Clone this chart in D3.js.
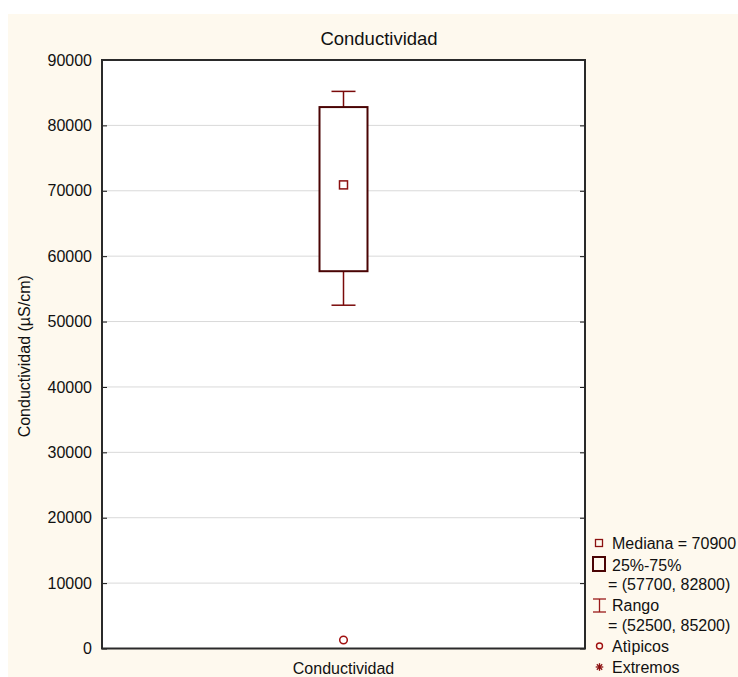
<!DOCTYPE html>
<html>
<head>
<meta charset="utf-8">
<script src="https://cdn.jsdelivr.net/npm/d3@7"></script>
<style>
  html, body { margin: 0; padding: 0; background: #ffffff; }
  svg { display: block; }
  text { font-family: "Liberation Sans", Arial, sans-serif; fill: #111; }
</style>
</head>
<body>
<svg id="chart" width="738" height="677"></svg>
<script>
// Box plot data
const categories = ["Conductividad"];
const medians = [70900];
const q1s = [57700];
const q3s = [82800];
const mins = [52500];
const maxs = [85200];
const outliers = [[1300]];
const yTicks = [0, 10000, 20000, 30000, 40000, 50000, 60000, 70000, 80000, 90000];

const title = "Conductividad";
const yLabel = "Conductividad (\u00b5S/cm)";

const svg = d3.select("#chart");
const W = 738, H = 677;
const m = { left: 102, right: 153, top: 60, bottom: 28.5 };
const pw = W - m.left - m.right;
const ph = H - m.top - m.bottom;

// cream panel
svg.append("rect").attr("x", 8).attr("y", 14).attr("width", W - 8).attr("height", H - 14)
  .attr("fill", "#fef9ee");

const y = d3.scaleLinear().domain([0, 90000]).range([m.top + ph, m.top]);
const x = d3.scaleBand().domain(categories).range([m.left, m.left + pw]);

const g = svg.append("g");

// plot background
g.append("rect").attr("x", m.left).attr("y", m.top).attr("width", pw).attr("height", ph)
  .attr("fill", "#ffffff");

// gridlines
g.append("g").selectAll("line").data(yTicks.filter(t => t > 0 && t < 90000)).join("line")
  .attr("x1", m.left).attr("x2", m.left + pw)
  .attr("y1", d => y(d)).attr("y2", d => y(d))
  .attr("stroke", "#d9d9d9").attr("stroke-width", 1);

// left axis (inward ticks)
const yAxisL = d3.axisLeft(y).tickValues(yTicks).tickSize(-5).tickPadding(10).tickFormat(d3.format("d"));
const ga = g.append("g").attr("transform", `translate(${m.left},0)`).call(yAxisL);
ga.select(".domain").remove();
ga.selectAll(".tick line").attr("stroke", "#111");
ga.selectAll(".tick text").attr("font-size", 16).attr("font-family", "Liberation Sans, Arial, sans-serif").attr("fill", "#111");

// right axis ticks
const yAxisR = d3.axisRight(y).tickValues(yTicks).tickSize(-5).tickFormat("");
const gr = g.append("g").attr("transform", `translate(${m.left + pw},0)`).call(yAxisR);
gr.select(".domain").remove();
gr.selectAll(".tick line").attr("stroke", "#111");

// frame
g.append("rect").attr("x", m.left).attr("y", m.top).attr("width", pw).attr("height", ph)
  .attr("fill", "none").attr("stroke", "#2a2a2a").attr("stroke-width", 2);

// box plot marks
const cx = d => x(d) + x.bandwidth() / 2;
const boxW = 48, capW = 24;
const boxes = g.append("g").selectAll("g").data(categories).join("g");

boxes.append("line")
  .attr("x1", d => cx(d)).attr("x2", d => cx(d))
  .attr("y1", (d, i) => y(q3s[i])).attr("y2", (d, i) => y(maxs[i]))
  .attr("stroke", "#7a0a0a").attr("stroke-width", 1.5);
boxes.append("line")
  .attr("x1", d => cx(d)).attr("x2", d => cx(d))
  .attr("y1", (d, i) => y(q1s[i])).attr("y2", (d, i) => y(mins[i]))
  .attr("stroke", "#7a0a0a").attr("stroke-width", 1.5);
boxes.append("line")
  .attr("x1", d => cx(d) - capW / 2).attr("x2", d => cx(d) + capW / 2)
  .attr("y1", (d, i) => y(maxs[i])).attr("y2", (d, i) => y(maxs[i]))
  .attr("stroke", "#7a0a0a").attr("stroke-width", 1.5);
boxes.append("line")
  .attr("x1", d => cx(d) - capW / 2).attr("x2", d => cx(d) + capW / 2)
  .attr("y1", (d, i) => y(mins[i])).attr("y2", (d, i) => y(mins[i]))
  .attr("stroke", "#7a0a0a").attr("stroke-width", 1.5);
boxes.append("rect")
  .attr("x", d => cx(d) - boxW / 2).attr("width", boxW)
  .attr("y", (d, i) => y(q3s[i])).attr("height", (d, i) => y(q1s[i]) - y(q3s[i]))
  .attr("fill", "#ffffff").attr("stroke", "#4a0404").attr("stroke-width", 2);
boxes.append("rect")
  .attr("x", d => cx(d) - 4).attr("width", 8)
  .attr("y", (d, i) => y(medians[i]) - 4).attr("height", 8)
  .attr("fill", "none").attr("stroke", "#8b1010").attr("stroke-width", 1.5);
boxes.each(function(d, i) {
  d3.select(this).selectAll("circle").data(outliers[i]).join("circle")
    .attr("cx", cx(d)).attr("cy", v => y(v)).attr("r", 3.8)
    .attr("fill", "none").attr("stroke", "#a01010").attr("stroke-width", 1.5);
});

// title and axis labels
svg.append("text").attr("x", 379).attr("y", 45).attr("text-anchor", "middle")
  .attr("font-size", 18.5).text(title);
svg.append("text").attr("transform", `translate(30,${m.top + ph / 2 + 2}) rotate(-90)`)
  .attr("text-anchor", "middle").attr("font-size", 16).text(yLabel);
svg.append("g").selectAll("text").data(categories).join("text")
  .attr("x", d => cx(d)).attr("y", 674).attr("text-anchor", "middle")
  .attr("font-size", 16).text(d => d);

// legend
const lg = svg.append("g");
const fmt = d3.format("d");
lg.append("rect").attr("x", 595.5).attr("y", 539.5).attr("width", 7).attr("height", 7)
  .attr("fill", "none").attr("stroke", "#8b1010").attr("stroke-width", 1.3);
lg.append("text").attr("x", 612).attr("y", 549).attr("font-size", 16).text(`Mediana = ${fmt(medians[0])}`);

lg.append("rect").attr("x", 593).attr("y", 557).attr("width", 12).attr("height", 14)
  .attr("fill", "none").attr("stroke", "#4a0404").attr("stroke-width", 2);
lg.append("text").attr("x", 612).attr("y", 571).attr("font-size", 16).text("25%-75%");
lg.append("text").attr("x", 608).attr("y", 590).attr("font-size", 16)
  .text(`= (${fmt(q1s[0])}, ${fmt(q3s[0])})`);

lg.append("line").attr("x1", 599.5).attr("x2", 599.5).attr("y1", 599).attr("y2", 612)
  .attr("stroke", "#9a1a1a").attr("stroke-width", 1.3);
lg.append("line").attr("x1", 593).attr("x2", 606).attr("y1", 599).attr("y2", 599)
  .attr("stroke", "#9a1a1a").attr("stroke-width", 1.3);
lg.append("line").attr("x1", 593).attr("x2", 606).attr("y1", 612).attr("y2", 612)
  .attr("stroke", "#9a1a1a").attr("stroke-width", 1.3);
lg.append("text").attr("x", 612).attr("y", 611).attr("font-size", 16).text("Rango");
lg.append("text").attr("x", 608).attr("y", 631).attr("font-size", 16)
  .text(`= (${fmt(mins[0])}, ${fmt(maxs[0])})`);

lg.append("circle").attr("cx", 599.5).attr("cy", 646).attr("r", 3)
  .attr("fill", "none").attr("stroke", "#a01010").attr("stroke-width", 1.4);
lg.append("text").attr("x", 612).attr("y", 652).attr("font-size", 16).text("At\u00ecpicos");

const ast = lg.append("g").attr("transform", "translate(599.5,667)");
[0, 45, 90, 135].forEach(a => {
  const r = 3.8, t = a * Math.PI / 180;
  ast.append("line").attr("x1", -r * Math.cos(t)).attr("y1", -r * Math.sin(t))
    .attr("x2", r * Math.cos(t)).attr("y2", r * Math.sin(t))
    .attr("stroke", "#8b1010").attr("stroke-width", 1.3);
});
lg.append("text").attr("x", 612).attr("y", 673).attr("font-size", 16).text("Extremos");
</script>
</body>
</html>
